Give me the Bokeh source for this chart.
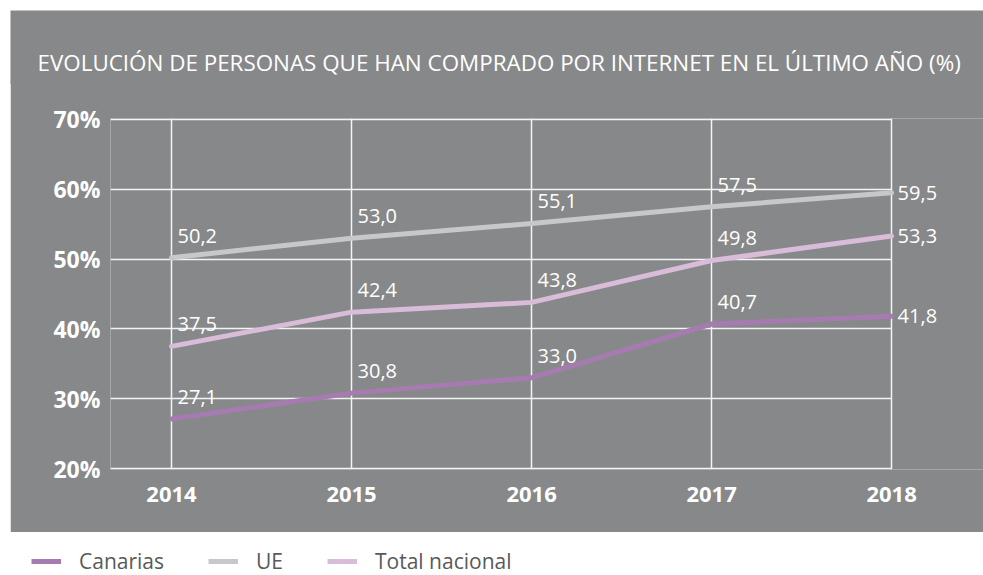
from bokeh.plotting import figure
from bokeh.models import ColumnDataSource, FixedTicker, Label, Legend, LegendItem, Range1d
from bokeh.core.properties import value
from bokeh.embed import file_html
from bokeh.resources import INLINE

# ---- data ----
years = [2014, 2015, 2016, 2017, 2018]
year_labels = ["2014", "2015", "2016", "2017", "2018"]
y_ticks = [20, 30, 40, 50, 60, 70]
y_tick_labels = ["20%", "30%", "40%", "50%", "60%", "70%"]
canarias = [27.1, 30.8, 33.0, 40.7, 41.8]
ue = [50.2, 53.0, 55.1, 57.5, 59.5]
total_nacional = [37.5, 42.4, 43.8, 49.8, 53.3]
series_names = ["Canarias", "UE", "Total nacional"]
title_text = "EVOLUCIÓN DE PERSONAS QUE HAN COMPRADO POR INTERNET EN EL ÚLTIMO AÑO (%)"

# ---- style ----
BG = "#87888a"
COLORS = ["#a67bb0", "#c7c8c9", "#d8bcd8"]
FONT = "Open Sans"
W = 981

series = [canarias, ue, total_nacional]

def fmt(v):
    return f"{v:.1f}".replace(".", ",")

def blank_fig(height, fill):
    f = figure(width=W, height=height, x_range=Range1d(0, 1), y_range=Range1d(0, 1),
               x_axis_type=None, y_axis_type=None, output_backend="svg",
               toolbar_location=None, min_border=0,
               background_fill_color=fill, border_fill_color=fill, outline_line_color=None)
    f.grid.visible = False
    return f

# ---- title strip (gray) ----
tf = blank_fig(74, BG)
tf.margin = (10, 0, 0, 10)
tf.add_layout(Label(x=27, y=22, x_units="screen", y_units="screen", text=title_text,
                    text_color="white", text_font=FONT, text_font_size="22.4px",
                    text_baseline="middle", text_align="left"))

# ---- main chart ----
X_START = 2013.661
p = figure(width=W, height=452,
           x_range=Range1d(X_START, 2018.555), y_range=Range1d(19.86, 70.14),
           output_backend="svg", toolbar_location=None,
           min_border_left=100, min_border_right=0, min_border_top=38, min_border_bottom=63,
           background_fill_color=BG, border_fill_color=BG, outline_line_color=None)
p.margin = (-4, 0, 0, 10)

p.xaxis.ticker = FixedTicker(ticks=years)
p.xaxis.major_label_overrides = {y: l for y, l in zip(years, year_labels)}
p.yaxis.ticker = FixedTicker(ticks=y_ticks)
p.yaxis.major_label_overrides = {y: l for y, l in zip(y_ticks, y_tick_labels)}
for ax in (p.xaxis[0], p.yaxis[0]):
    ax.axis_line_color = None
    ax.major_tick_line_color = None
    ax.minor_tick_line_color = None
    ax.major_label_text_color = "white"
    ax.major_label_text_font = FONT
    ax.major_label_text_font_style = "bold"
p.xaxis.major_label_text_font_size = "22px"
p.xaxis.major_label_standoff = 11
p.yaxis.major_label_text_font_size = "23px"
p.yaxis.major_tick_out = 0
p.yaxis.major_label_standoff = 10

p.xgrid.ticker = FixedTicker(ticks=years)
p.ygrid.ticker = FixedTicker(ticks=y_ticks)
p.ygrid.cross_bounds = (X_START, years[-1])
for g in (p.xgrid[0], p.ygrid[0]):
    g.grid_line_color = "#f4f4f4"
    g.grid_line_width = 1.5

for vals, col in zip(series, COLORS):
    p.line(years, vals, line_color=col, line_width=5, line_cap="round", line_join="round")

# value labels
ax_x, ax_y, ax_t, rx, ry, rt = [], [], [], [], [], []
for vals in series:
    for yr, v in zip(years[:-1], vals[:-1]):
        ax_x.append(yr); ax_y.append(v); ax_t.append(fmt(v))
    rx.append(years[-1]); ry.append(vals[-1]); rt.append(fmt(vals[-1]))

p.text(x="x", y="y", text="t", source=ColumnDataSource(dict(x=ax_x, y=ax_y, t=ax_t)),
       x_offset=6, y_offset=-22, text_align="left", text_baseline="middle",
       text_color="white", text_font=value(FONT), text_font_size="20px")
p.text(x="x", y="y", text="t", source=ColumnDataSource(dict(x=rx, y=ry, t=rt)),
       x_offset=6, y_offset=0, text_align="left", text_baseline="middle",
       text_color="white", text_font=value(FONT), text_font_size="20px")

# ---- legend strip (white) ----
lg = blank_fig(43, "white")
lg.margin = (0, 0, -30, 10)
items = []
for name, vals, col in zip(series_names, series, COLORS):
    r = lg.line(years, vals, line_color=col, line_width=5)
    items.append(LegendItem(label=name, renderers=[r]))
legend = Legend(items=items, orientation="horizontal", location=(21, 0),
                glyph_width=30, glyph_height=20, label_height=20, label_standoff=18,
                spacing=44, padding=0, margin=0, border_line_alpha=0, background_fill_alpha=0,
                label_text_font=FONT, label_text_font_size="21px", label_text_color="#58595b")
lg.add_layout(legend)

open("out.html", "w").write(file_html([tf, p, lg], INLINE))
